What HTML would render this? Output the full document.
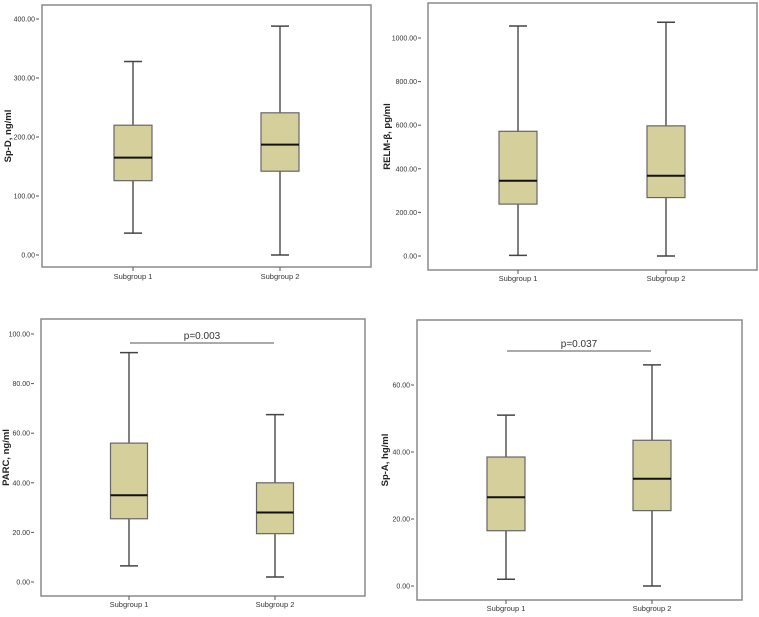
<!DOCTYPE html>
<html><head><meta charset="utf-8"><style>
body{margin:0;background:#fff;width:759px;height:617px;overflow:hidden;font-family:"Liberation Sans",sans-serif}
svg{display:block}
</style></head><body>
<svg id="c" width="759" height="617" xmlns="http://www.w3.org/2000/svg"></svg>
<script>
const categories = ["Subgroup 1","Subgroup 2"];
const spdStats = [[37,126,165,220,328],[0,142,187,241,388]];
const relmStats = [[3,238,345,572,1055],[0,268,368,597,1072]];
const parcStats = [[6.5,25.5,35,56,92.5],[2,19.5,28,40,67.5]];
const spaStats = [[2,16.5,26.5,38.5,51],[0,22.5,32,43.5,66]];
const spdTicks = [0,100,200,300,400];
const relmTicks = [0,200,400,600,800,1000];
const parcTicks = [0,20,40,60,80,100];
const spaTicks = [0,20,40,60];
const pValues = ["", "", "p=0.003", "p=0.037"];

const panels = [
 {name:"spd",title:"Sp-D, ng/ml",stats:spdStats,ticks:spdTicks,fx0:42,fx1:371,fy0:5,fy1:267,yTop:19,yBot:255,vTop:400,cx:[133,280],hw:19,titleX:8,labX:35,catY:279},
 {name:"relm",title:"RELM-β, pg/ml",stats:relmStats,ticks:relmTicks,fx0:428,fx1:757,fy0:3,fy1:270,yTop:38,yBot:256,vTop:1000,cx:[518,666],hw:19,titleX:387,labX:417,catY:281},
 {name:"parc",title:"PARC, ng/ml",stats:parcStats,ticks:parcTicks,fx0:41,fx1:365,fy0:319,fy1:596,yTop:334,yBot:582,vTop:100,cx:[129,275],hw:18.5,titleX:6,labX:30,catY:607,pY:343},
 {name:"spa",title:"Sp-A, hg/ml",stats:spaStats,ticks:spaTicks,fx0:417,fx1:742,fy0:320,fy1:600,yTop:385,yBot:586,vTop:60,cx:[506,652],hw:19,titleX:385,labX:410,catY:611,pY:351}
];
const svg=document.getElementById('c');
const NS="http://www.w3.org/2000/svg";
function mk(t,a,p){const e=document.createElementNS(NS,t);for(const k in a)e.setAttribute(k,a[k]);(p||svg).appendChild(e);return e;}
panels.forEach((P,pi)=>{
 const g=mk('g',{});
 
 
 const y=v=>P.yBot-(v/P.vTop)*(P.yBot-P.yTop);
 const fr=mk('rect',{x:P.fx0,y:P.fy0,width:P.fx1-P.fx0,height:P.fy1-P.fy0,fill:'none',stroke:'#8a8a8a','stroke-width':1.5},g);
 
 
 P.ticks.forEach(t=>{
  mk('line',{x1:P.labX+1,x2:P.labX+4,y1:y(t),y2:y(t),stroke:'#555'},g);
  const tx=mk('text',{x:P.labX,y:y(t)+2.5,'text-anchor':'end','font-size':7,fill:'#333'},g);
  tx.textContent=t.toFixed(2);
  
  
 });
 const my=(P.fy0+P.fy1)/2;
 const at=mk('text',{x:P.titleX,y:my,'text-anchor':'middle','font-size':9.5,'font-weight':'bold',fill:'#222',transform:`rotate(-90 ${P.titleX} ${my}) translate(0 3)`},g);
 at.textContent=P.title;
 
 
 categories.forEach((c,i)=>{
  const s=P.stats[i],x=P.cx[i],hw=P.hw,wh=9;
  mk('line',{x1:x,x2:x,y1:P.fy1,y2:P.fy1+4,stroke:'#555'},g);
  const cl=mk('text',{x:x,y:P.catY,'text-anchor':'middle','font-size':7.5,fill:'#333'},g);
  cl.textContent=c;
  
  
  const bg=mk('g',{},g);
  
  
  mk('line',{x1:x,x2:x,y1:y(s[4]),y2:y(s[3]),stroke:'#555','stroke-width':1.5},bg);
  mk('line',{x1:x,x2:x,y1:y(s[1]),y2:y(s[0]),stroke:'#555','stroke-width':1.5},bg);
  mk('line',{x1:x-wh,x2:x+wh,y1:y(s[4]),y2:y(s[4]),stroke:'#444','stroke-width':1.5},bg);
  mk('line',{x1:x-wh,x2:x+wh,y1:y(s[0]),y2:y(s[0]),stroke:'#444','stroke-width':1.5},bg);
  mk('rect',{x:x-hw,y:y(s[3]),width:2*hw,height:y(s[1])-y(s[3]),fill:'#d4cf9b',stroke:'#666','stroke-width':1.2},bg);
  mk('line',{x1:x-hw,x2:x+hw,y1:y(s[2]),y2:y(s[2]),stroke:'#111','stroke-width':2},bg);
 });
 if(pValues[pi]){
  const pl=mk('line',{x1:P.cx[0]+1,x2:P.cx[1]-1,y1:P.pY,y2:P.pY,stroke:'#555','stroke-width':1},g);
  
  
  const pt=mk('text',{x:(P.cx[0]+P.cx[1])/2,y:P.pY-4,'text-anchor':'middle','font-size':10,fill:'#333'},g);
  pt.textContent=pValues[pi];
  
  
 }
});
</script>
</body></html>
